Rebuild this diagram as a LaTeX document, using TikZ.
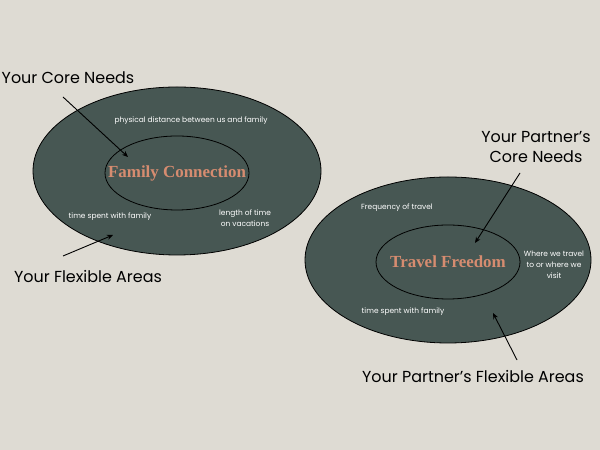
\documentclass[tikz,border=0pt]{standalone}
\usepackage{fontspec}
\setmainfont{Poppins}
\newfontfamily\titlefont{Liberation Serif}
\usetikzlibrary{positioning,arrows.meta,shapes.geometric}
\definecolor{mybg}{RGB}{222,219,211}
\definecolor{myslate}{RGB}{71,87,83}
\definecolor{mysalmon}{RGB}{214,140,112}
\tikzset{
  outerring/.style={draw=black, line width=0.8pt, ellipse, fill=myslate, minimum width=288bp, minimum height=168bp, inner sep=0pt},
  innerring/.style={draw=black, line width=0.8pt, ellipse, fill=myslate, minimum width=144bp, minimum height=74bp, inner sep=0pt},
  titletext/.style={font=\titlefont\bfseries\fontsize{17}{19}\selectfont, text=mysalmon, inner sep=0pt},
  biglabel/.style={font=\fontsize{16}{20}\selectfont, text=black, align=center},
  smalltext/.style={font=\fontsize{7.5}{11}\selectfont, text=white, align=center},
  pointer/.style={line width=0.9pt, -{Stealth[length=6bp,width=5bp]}}
}
\begin{document}
\begin{tikzpicture}[x=1bp,y=1bp]
  \fill[mybg] (0,0) rectangle (600,450);
  \useasboundingbox (0,0) rectangle (600,450);

  % Left pair
  \node[outerring] (famout) at (177,279) {};
  \node[innerring] (famin) at (177,277) {};
  \node[titletext] (famtitle) at (famin.center) {Family Connection};
  \node[smalltext] (famdist) at (191,329) {physical distance between us and family};
  \node[smalltext] (famtime) at (110,233) {time spent with family};
  \node[smalltext] (famvac) at (245,232) {length of time\\on vacations};

  % Right pair
  \node[outerring, minimum width=286bp, minimum height=166bp] (travout) at (448,190) {};
  \node[innerring] (travin) at (448,188) {};
  \node[titletext] (travtitle) at (travin.center) {Travel Freedom};
  \node[smalltext] (travfreq) at (397,242) {Frequency of travel};
  \node[smalltext] (travwhere) at (554,185) {Where we travel\\to or where we\\visit};
  \node[smalltext] (travtime) at (403,138) {time spent with family};

  % Labels
  \node[biglabel] (corelbl) at (68,372) {Your Core Needs};
  \node[biglabel] (flexlbl) at (88,173) {Your Flexible Areas};
  \node[biglabel] (pcorelbl) at (536,303) {Your Partner's\\Core Needs};
  \node[biglabel] (pflexlbl) at (473,73) {Your Partner's Flexible Areas};

  % Pointers
  \coordinate (corefrom) at (63,353);
  \coordinate (coreto) at (128,293);
  \coordinate (flexfrom) at (63,194);
  \coordinate (flexto) at (113,215);
  \coordinate (pcorefrom) at (520,277);
  \coordinate (pcoreto) at (475,207);
  \coordinate (pflexfrom) at (517,90);
  \coordinate (pflexto) at (493,137);
  \draw[pointer] (corefrom) -- (coreto);
  \draw[pointer] (flexfrom) -- (flexto);
  \draw[pointer] (pcorefrom) -- (pcoreto);
  \draw[pointer] (pflexfrom) -- (pflexto);
\end{tikzpicture}
\end{document}
